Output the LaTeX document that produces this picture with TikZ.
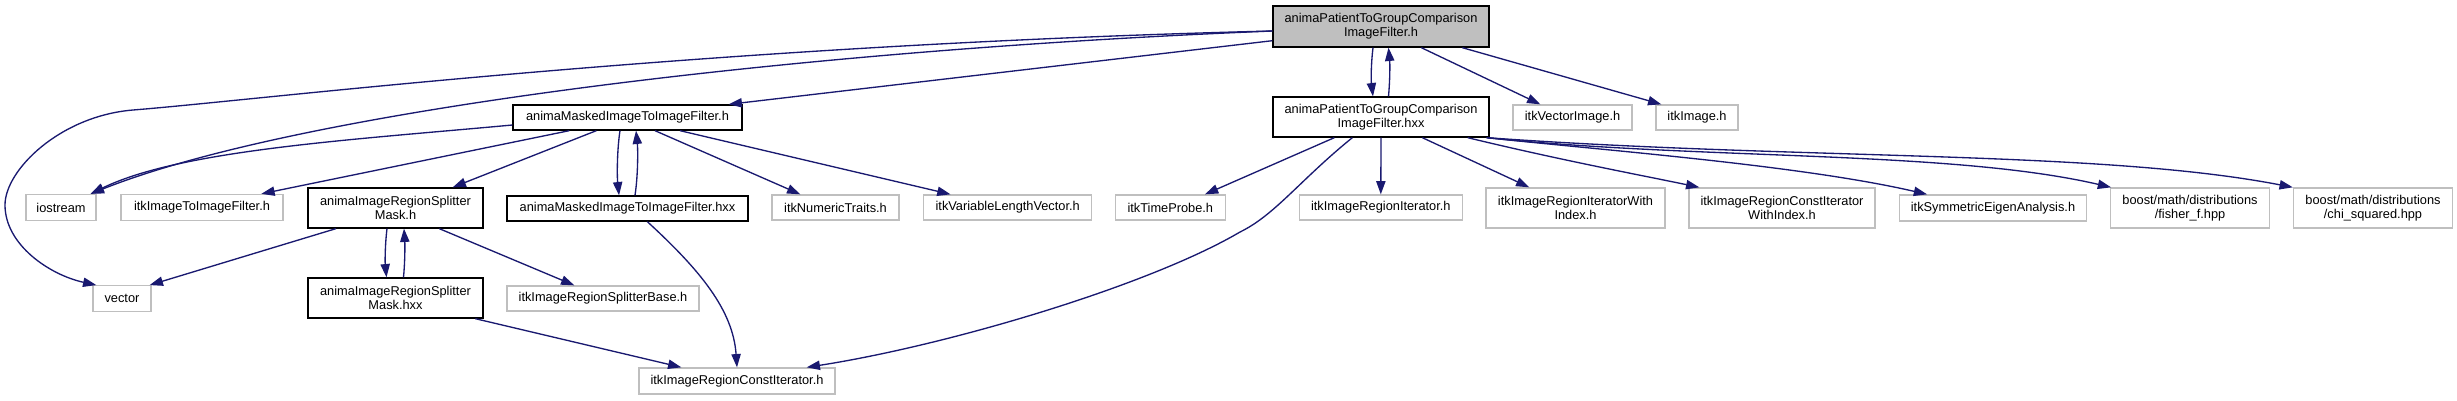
\documentclass[tikz,border=0pt]{standalone}
\usepackage{fontspec}
\setmainfont{Liberation Sans}
\usetikzlibrary{arrows.meta}
\definecolor{edgeblue}{HTML}{191970}
\definecolor{greyseventyfive}{HTML}{BFBFBF}
\begin{document}
\begin{tikzpicture}[x=1pt,y=-1pt,
  every node/.style={font=\fontsize{12.8}{14.3}\selectfont, inner sep=0pt, align=center, fill=white},
  docnode/.style={draw=black, line width=1.33pt},
  extnode/.style={draw=greyseventyfive, line width=1.33pt},
  mainnode/.style={draw=black, fill=greyseventyfive, line width=1.33pt},
  dep/.style={draw=edgeblue, line width=1.33pt, -{Triangle[length=13.3pt,width=9.3pt]}}
]
\fill[white] (0,0) rectangle (2457,400);
\useasboundingbox (0,0) rectangle (2457,400);

% nodes
\node[mainnode, minimum width=216pt, minimum height=41pt] (top) at (1381,26.5) {animaPatientToGroupComparison\\ImageFilter.h};
\node[docnode, minimum width=216pt, minimum height=40pt] (ptghxx) at (1381,117) {animaPatientToGroupComparison\\ImageFilter.hxx};
\node[docnode, minimum width=229pt, minimum height=25pt] (maskedh) at (627.5,117.5) {animaMaskedImageToImageFilter.h};
\node[extnode, minimum width=119pt, minimum height=25pt] (vecimg) at (1572.5,117.5) {itkVectorImage.h};
\node[extnode, minimum width=82pt, minimum height=25pt] (itkimage) at (1697,117.5) {itkImage.h};

\node[extnode, minimum width=70pt, minimum height=26pt] (iostream) at (61,207.5) {iostream};
\node[extnode, minimum width=162pt, minimum height=26pt] (itki2i) at (202,207.5) {itkImageToImageFilter.h};
\node[docnode, minimum width=175pt, minimum height=40pt] (splmaskh) at (395.5,208) {animaImageRegionSplitter\\Mask.h};
\node[docnode, minimum width=241pt, minimum height=25pt] (maskedhxx) at (627.5,208.5) {animaMaskedImageToImageFilter.hxx};
\node[extnode, minimum width=127pt, minimum height=25pt] (numtraits) at (835.5,207.5) {itkNumericTraits.h};
\node[extnode, minimum width=168pt, minimum height=25pt] (varlen) at (1007.7,207.5) {itkVariableLengthVector.h};
\node[extnode, minimum width=110pt, minimum height=25pt] (timeprobe) at (1170.3,207.5) {itkTimeProbe.h};
\node[extnode, minimum width=163pt, minimum height=25pt] (regiter) at (1380.8,207.5) {itkImageRegionIterator.h};
\node[extnode, minimum width=179pt, minimum height=40pt] (regiterwi) at (1575.5,208) {itkImageRegionIteratorWith\\Index.h};
\node[extnode, minimum width=186pt, minimum height=40pt] (regconstiterwi) at (1782,208) {itkImageRegionConstIterator\\WithIndex.h};
\node[extnode, minimum width=186.5pt, minimum height=26pt] (symeig) at (1993,208) {itkSymmetricEigenAnalysis.h};
\node[extnode, minimum width=158.5pt, minimum height=40pt] (fisher) at (2190,208) {boost/math/distributions\\/fisher\_f.hpp};
\node[extnode, minimum width=159pt, minimum height=40pt] (chi) at (2373,208) {boost/math/distributions\\/chi\_squared.hpp};

\node[extnode, minimum width=58pt, minimum height=25.5pt] (vector) at (122,298.5) {vector};
\node[docnode, minimum width=175pt, minimum height=40pt] (splmaskhxx) at (395.5,298) {animaImageRegionSplitter\\Mask.hxx};
\node[extnode, minimum width=192pt, minimum height=25pt] (splbase) at (603,298.5) {itkImageRegionSplitterBase.h};
\node[extnode, minimum width=196pt, minimum height=26pt] (constiter) at (737,381) {itkImageRegionConstIterator.h};

% edges from top
\draw[dep] ([yshift=-14.2pt]top.west) -- ([xshift=-14pt]maskedh.north east);
\draw[dep] ([yshift=-4.5pt]top.west) .. controls (800,50) and (300,110) .. ([xshift=-6pt]iostream.north east);
\draw[dep] ([yshift=-4.5pt]top.west) .. controls (700,45) and (260,100) .. (133,110)
  .. controls (60,116) and (5,170) .. (5,205)
  .. controls (5,245) and (50,275) .. ([xshift=4pt]vector.north west);
\draw[dep] ([xshift=-8pt]top.south) .. controls (1371,64) and (1371,80) .. ([xshift=-8pt]ptghxx.north);
\draw[dep] ([xshift=7.5pt]ptghxx.north) .. controls (1390,80) and (1390,64) .. ([xshift=7.5pt]top.south);
\draw[dep] ([xshift=149pt]top.south west) -- ([xshift=28pt]vecimg.north west);
\draw[dep] ([xshift=190pt]top.south west) -- ([xshift=6pt]itkimage.north west);

% edges from animaMaskedImageToImageFilter.h
\draw[dep] ([yshift=-7.5pt]maskedh.west) .. controls (350,140) and (180,150) .. ([xshift=-6pt]iostream.north east);
\draw[dep] ([xshift=57pt]maskedh.south west) -- ([xshift=141pt]itki2i.north west);
\draw[dep] ([xshift=84pt]maskedh.south west) -- ([xshift=-31pt]splmaskh.north east);
\draw[dep] ([xshift=-7.5pt]maskedh.south) .. controls (617,150) and (617,176) .. ([xshift=-8.5pt]maskedhxx.north);
\draw[dep] ([xshift=7.5pt]maskedhxx.north) .. controls (638,176) and (638,150) .. ([xshift=8.5pt]maskedh.south);
\draw[dep] ([xshift=27.5pt]maskedh.south) -- ([xshift=29pt]numtraits.north west);
\draw[dep] ([xshift=52.5pt]maskedh.south) -- ([xshift=27.5pt]varlen.north west);

% edges from splitter mask
\draw[dep] ([xshift=28.5pt]splmaskh.south west) -- ([xshift=-2pt]vector.north east);
\draw[dep] ([xshift=-8.5pt]splmaskh.south) .. controls (385,245) and (385,262) .. ([xshift=-9pt]splmaskhxx.north);
\draw[dep] ([xshift=8pt]splmaskhxx.north) .. controls (405,262) and (405,245) .. ([xshift=8.5pt]splmaskh.south);
\draw[dep] ([xshift=132pt]splmaskh.south west) -- ([xshift=68pt]splbase.north west);
\draw[dep] ([xshift=168pt]splmaskhxx.south west) -- ([xshift=43pt]constiter.north west);
\draw[dep] ([xshift=141pt]maskedhxx.south west) .. controls (700,270) and (733,310) .. (constiter.north);

% edges from PTG hxx
\draw[dep] ([xshift=62pt]ptghxx.south west) -- ([xshift=-21pt]timeprobe.north east);
\draw[dep] (ptghxx.south) -- (regiter.north);
\draw[dep] ([xshift=150pt]ptghxx.south west) -- ([xshift=44pt]regiterwi.north west);
\draw[dep] ([xshift=80pt]ptghxx.south west) .. controls (1300,180) and (1275,215) .. (1240,232)
  .. controls (1150,285) and (950,345) .. ([xshift=-29pt]constiter.north east);
\draw[dep] ([xshift=-22pt]ptghxx.south east) .. controls (1560,160) and (1640,175) .. ([xshift=11pt]regconstiterwi.north west);
\draw[dep] ([xshift=-3pt]ptghxx.south east) .. controls (1600,150) and (1800,165) .. ([xshift=28pt]symeig.north west);
\draw[dep] ([xshift=-3pt]ptghxx.south east) .. controls (1700,160) and (1950,150) .. ([xshift=1pt]fisher.north west);
\draw[dep] ([xshift=-3pt]ptghxx.south east) .. controls (1800,160) and (2100,150) .. (chi.north west);
\end{tikzpicture}
\end{document}
